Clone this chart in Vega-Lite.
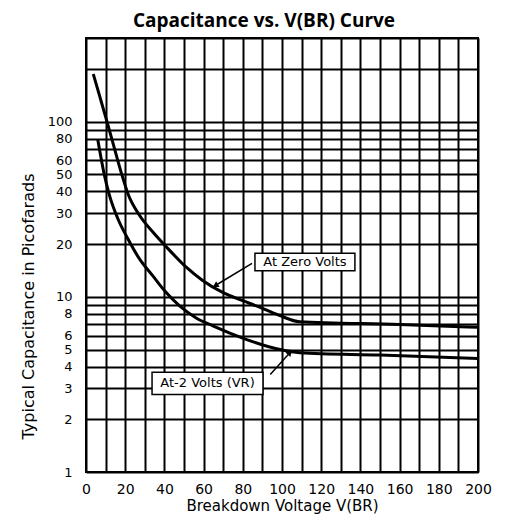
{
  "$schema": "https://vega.github.io/schema/vega-lite/v6.json",
  "width": 392,
  "height": 434,
  "autosize": "none",
  "padding": {"left": 86, "top": 38, "right": 31, "bottom": 51},
  "background": "white",
  "title": {"text": "Capacitance vs. V(BR) Curve", "font": "Open Sans", "fontSize": 19, "fontWeight": "bold", "color": "black", "offset": 1, "dx": -18},
  "config": {
    "view": {"stroke": "black", "strokeWidth": 2},
    "axis": {"grid": true, "gridColor": "black", "gridWidth": 2, "gridOpacity": 1, "ticks": false, "domain": false, "labelFont": "DejaVu Sans", "labelFontSize": 13, "labelColor": "black", "titleFont": "DejaVu Sans", "titleFontSize": 14, "titleFontWeight": "normal", "titleColor": "black", "labelFlush": false, "labelOverlap": false}
  },
  "datasets": {
    "curves": [
      {"series": "At Zero Volts", "x": 3.7, "y": 187},
      {"series": "At Zero Volts", "x": 7.2, "y": 137},
      {"series": "At Zero Volts", "x": 10.7, "y": 100},
      {"series": "At Zero Volts", "x": 14.4, "y": 71},
      {"series": "At Zero Volts", "x": 18.0, "y": 51},
      {"series": "At Zero Volts", "x": 21.5, "y": 38.5},
      {"series": "At Zero Volts", "x": 27.2, "y": 29.3},
      {"series": "At Zero Volts", "x": 34.0, "y": 23.5},
      {"series": "At Zero Volts", "x": 41.7, "y": 18.9},
      {"series": "At Zero Volts", "x": 51.0, "y": 14.8},
      {"series": "At Zero Volts", "x": 59.5, "y": 12.4},
      {"series": "At Zero Volts", "x": 69.7, "y": 10.6},
      {"series": "At Zero Volts", "x": 80, "y": 9.5},
      {"series": "At Zero Volts", "x": 90, "y": 8.6},
      {"series": "At Zero Volts", "x": 99, "y": 7.8},
      {"series": "At Zero Volts", "x": 109, "y": 7.2},
      {"series": "At Zero Volts", "x": 160, "y": 6.95},
      {"series": "At Zero Volts", "x": 200, "y": 6.7},
      {"series": "At-2 Volts", "x": 6.0, "y": 79},
      {"series": "At-2 Volts", "x": 9.3, "y": 50},
      {"series": "At-2 Volts", "x": 11.9, "y": 38.2},
      {"series": "At-2 Volts", "x": 16.2, "y": 28},
      {"series": "At-2 Volts", "x": 21.3, "y": 21.5},
      {"series": "At-2 Volts", "x": 27.2, "y": 16.5},
      {"series": "At-2 Volts", "x": 34.0, "y": 13.2},
      {"series": "At-2 Volts", "x": 40.8, "y": 10.6},
      {"series": "At-2 Volts", "x": 47.6, "y": 8.9},
      {"series": "At-2 Volts", "x": 56, "y": 7.6},
      {"series": "At-2 Volts", "x": 65, "y": 6.8},
      {"series": "At-2 Volts", "x": 82, "y": 5.7},
      {"series": "At-2 Volts", "x": 99, "y": 5.0},
      {"series": "At-2 Volts", "x": 109, "y": 4.8},
      {"series": "At-2 Volts", "x": 150, "y": 4.65},
      {"series": "At-2 Volts", "x": 200, "y": 4.45}
    ],
    "arrows": [
      {"arrow": "zero", "x": 84.7, "y": 15.5},
      {"arrow": "zero", "x": 66, "y": 11.6},
      {"arrow": "minus2", "x": 94, "y": 3.6},
      {"arrow": "minus2", "x": 104, "y": 4.8}
    ],
    "boxes": [
      {"label": "At Zero Volts", "x": 111.7, "y": 15.8, "x1": 86.2, "x2": 137.2, "y1": 14.1, "y2": 17.7},
      {"label": "At-2 Volts (VR)", "x": 62, "y": 3.2, "x1": 33.7, "x2": 90.3, "y1": 2.77, "y2": 3.71}
    ]
  },
  "encoding": {
    "x": {
      "field": "x", "type": "quantitative", "title": "Breakdown Voltage V(BR)",
      "scale": {"domain": [0, 200], "nice": false, "zero": false},
      "axis": {"values": [0,10,20,30,40,50,60,70,80,90,100,110,120,130,140,150,160,170,180,190,200], "labelExpr": "datum.value % 20 == 0 ? datum.label : ''", "labelFontSize": 14, "labelPadding": 10, "titlePadding": 2, "titleFontSize": 15}
    },
    "y": {
      "field": "y", "type": "quantitative", "title": "Typical Capacitance in Picofarads",
      "scale": {"type": "log", "domain": [1, 300], "nice": false},
      "axis": {"values": [1,2,3,4,5,6,7,8,9,10,20,30,40,50,60,70,80,90,100,200,300], "format": "d", "labelExpr": "indexof([1,2,3,4,5,6,8,10,20,30,40,50,60,80,100], datum.value) >= 0 ? datum.label : ''", "labelPadding": 14, "titleFontSize": 16, "titleAngle": -90, "titleAlign": "center", "titleBaseline": "middle", "titleX": -58, "titleY": 268}
    }
  },
  "layer": [
    {"data": {"name": "curves"}, "mark": {"type": "line", "interpolate": "monotone", "strokeWidth": 3, "color": "black"}, "encoding": {"detail": {"field": "series"}}},
    {"data": {"name": "arrows"}, "mark": {"type": "line", "strokeWidth": 1.5, "color": "black"}, "encoding": {"detail": {"field": "arrow"}}},
    {"data": {"name": "arrows"}, "transform": [{"filter": "datum.arrow == 'zero' && datum.x < 70"}], "mark": {"type": "point", "shape": "triangle-up", "filled": true, "color": "black", "opacity": 1, "size": 45, "angle": 239}},
    {"data": {"name": "arrows"}, "transform": [{"filter": "datum.arrow == 'minus2' && datum.x > 100"}], "mark": {"type": "point", "shape": "triangle-up", "filled": true, "color": "black", "opacity": 1, "size": 45, "angle": 42}},
    {"data": {"name": "boxes"}, "mark": {"type": "rect", "fill": "white", "stroke": "black", "strokeWidth": 1.5}, "encoding": {"x": {"field": "x1", "type": "quantitative", "title": "Breakdown Voltage V(BR)"}, "x2": {"field": "x2"}, "y": {"field": "y1", "type": "quantitative", "title": "Typical Capacitance in Picofarads"}, "y2": {"field": "y2"}}},
    {"data": {"name": "boxes"}, "mark": {"type": "text", "font": "DejaVu Sans", "fontSize": 13, "color": "black"}, "encoding": {"text": {"field": "label"}}}
  ]
}
